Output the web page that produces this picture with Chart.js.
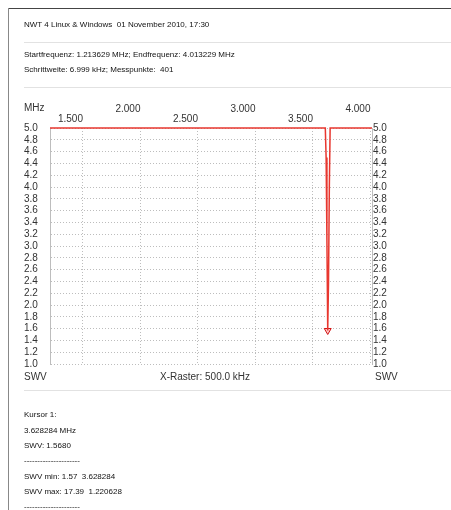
<!DOCTYPE html>
<html><head><meta charset="utf-8">
<script src="https://cdn.jsdelivr.net/npm/chart.js@4/dist/chart.umd.min.js"></script>
<style>
html,body{margin:0;padding:0;background:#fff;}
#wrap{position:relative;width:451px;height:510px;overflow:hidden;}
canvas{position:absolute;left:0;top:0;}
.t{position:absolute;white-space:pre;font-family:"Liberation Sans",sans-serif;font-size:8px;line-height:10px;color:#111;}
.a{position:absolute;white-space:pre;font-family:"Liberation Sans",sans-serif;font-size:10px;line-height:12px;color:#333;}
.hl{position:absolute;height:1px;background:#e2e2e2;}
</style></head>
<body><div id="wrap">
<canvas id="c" width="451" height="510"></canvas>
<div style="position:absolute;left:8px;top:8px;width:443px;height:1px;background:#444"></div>
<div style="position:absolute;left:8px;top:8px;width:1px;height:502px;background:#888"></div>
<div class="hl" style="left:24px;top:42px;width:427px"></div>
<div class="hl" style="left:24px;top:87px;width:427px"></div>
<div class="hl" style="left:24px;top:390px;width:427px"></div>
<div class="t" style="left:24px;top:20px">NWT 4 Linux &amp; Windows  01 November 2010, 17:30</div>
<div class="t" style="left:24px;top:50px">Startfrequenz: 1.213629 MHz; Endfrequenz: 4.013229 MHz</div>
<div class="t" style="left:24px;top:65px">Schrittweite: 6.999 kHz; Messpunkte:  401</div>
<div class="a" style="left:24px;top:102px">MHz</div>
<div class="a" style="left:24px;top:371px">SWV</div>
<div class="a" style="left:375px;top:371px">SWV</div>
<div class="a" style="left:160px;top:371px">X-Raster: 500.0 kHz</div>
<div class="t" style="left:24px;top:410px">Kursor 1:</div>
<div class="t" style="left:24px;top:426px">3.628284 MHz</div>
<div class="t" style="left:24px;top:441px">SWV: 1.5680</div>
<div class="t" style="left:24px;top:456px">---------------------</div>
<div class="t" style="left:24px;top:472px">SWV min: 1.57  3.628284</div>
<div class="t" style="left:24px;top:487px">SWV max: 17.39  1.220628</div>
<div class="t" style="left:24px;top:502px">---------------------</div>
</div>
<script>
// Frequencies in MHz and SWR values (display clamps at 5.0)
const freqMHz = [1.213629, 3.607287, 3.614286, 3.621285, 3.628284, 3.635283, 3.642282, 3.649281, 4.013229];
const swr     = [5.0,      5.0,      4.5,      3.1,      1.568,    2.4,      4.0,      5.0,      5.0];
const cursorFreq = [3.628284];
const cursorSwr = [1.568];
const xTicks = [1.5, 2.0, 2.5, 3.0, 3.5, 4.0];
const xTickLabels = ['1.500', '2.000', '2.500', '3.000', '3.500', '4.000'];
const yTicks = [1.0,1.2,1.4,1.6,1.8,2.0,2.2,2.4,2.6,2.8,3.0,3.2,3.4,3.6,3.8,4.0,4.2,4.4,4.6,4.8,5.0];

const xmin = 1.213629, xmax = 4.013229;
const tickFont = {family: '"Liberation Sans", sans-serif', size: 10, lineHeight: 1.0};
const gridCol = '#bdbdbd';

new Chart(document.getElementById('c'), {
  type: 'scatter',
  data: {
    datasets: [
      {
        data: freqMHz.map((f, i) => ({x: f, y: swr[i]})),
        showLine: true, borderColor: '#e8372f', borderWidth: 1.5,
        pointRadius: 0, fill: false, tension: 0, clip: 2
      },
      {
        data: cursorFreq.map((f, i) => ({x: f, y: cursorSwr[i]})),
        showLine: false, pointStyle: 'triangle', rotation: 180, pointRadius: 4,
        pointBackgroundColor: '#ffc8c8', pointBorderColor: '#d01010', pointBorderWidth: 1
      }
    ]
  },
  options: {
    responsive: false, animation: false, devicePixelRatio: 1,
    layout: {padding: {left: 24, right: 49, top: 100, bottom: 146}},
    plugins: {legend: {display: false}, tooltip: {enabled: false}},
    scales: {
      x: {
        type: 'linear', position: 'top', min: xmin, max: xmax,
        afterBuildTicks: s => { s.ticks = xTicks.map(v => ({value: v})); },
        afterFit: s => { s.height = 28; },
        ticks: {
          align: 'end', padding: 4, color: '#333', font: tickFont, autoSkip: false, maxRotation: 0,
          callback: (v) => { const i = xTicks.indexOf(v); const l = xTickLabels[i];
            return (i % 2 === 0) ? ['', l] : [l, '']; }
        },
        grid: {color: gridCol, drawTicks: false, tickLength: 0},
        border: {display: false, dash: [1, 2]}
      },
      y: {
        position: 'left', min: 1.0, max: 5.0,
        afterBuildTicks: s => { s.ticks = yTicks.map(v => ({value: v})); },
        afterFit: s => { s.width = 26; },
        ticks: {crossAlign: 'far', padding: 0, color: '#333', font: tickFont, autoSkip: false,
          callback: v => v.toFixed(1)},
        grid: {color: gridCol, drawTicks: false, tickLength: 0},
        border: {display: true, color: gridCol, dash: [1, 2]}
      },
      y2: {
        position: 'right', min: 1.0, max: 5.0,
        afterBuildTicks: s => { s.ticks = yTicks.map(v => ({value: v})); },
        afterFit: s => { s.width = 30; },
        ticks: {crossAlign: 'near', padding: 1, color: '#333', font: tickFont, autoSkip: false,
          callback: v => v.toFixed(1)},
        grid: {display: false, drawTicks: false},
        border: {display: true, color: gridCol, dash: [1, 2]}
      }
    }
  }
});
</script>
</body></html>
